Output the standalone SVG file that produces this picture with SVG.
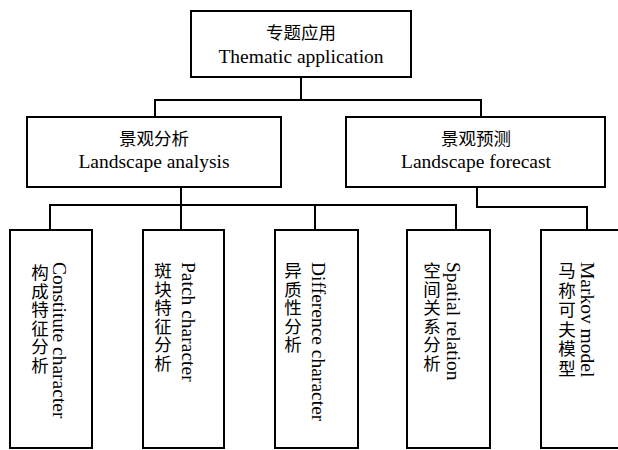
<svg xmlns="http://www.w3.org/2000/svg" width="618" height="450" viewBox="0 0 618 450">
  <style>
    .box { fill: #fff; stroke: #000; stroke-width: 2; }
    .link { fill: none; stroke: #000; stroke-width: 2; }
    .en { font-family: "Liberation Serif", "Times New Roman", serif; font-size: 19.5px; fill: #000; }
    .zh { font-family: "Noto Sans CJK SC", "Noto Sans CJK TC", sans-serif; font-size: 17.5px; fill: #000; }
    .mid { text-anchor: middle; }
    .col { writing-mode: vertical-rl; text-orientation: upright; letter-spacing: 1px; }
  </style>
  <rect width="618" height="450" fill="#fff"/>

  <!-- connectors -->
  <g id="connectors">
    <polyline class="link" points="301,77 301,100"/>
    <polyline class="link" points="155,117 155,100 481,100 481,117"/>
    <polyline class="link" points="181,187 181,230"/>
    <polyline class="link" points="50,230 50,205 456,205 456,230"/>
    <polyline class="link" points="315,205 315,230"/>
    <polyline class="link" points="477,187 477,207 587,207 587,230"/>
  </g>

  <!-- root -->
  <g id="thematic-application">
    <rect class="box" x="191" y="11" width="220" height="66"/>
    <text class="zh mid" x="301" y="39" font-size="18.5">专题应用</text>
    <text class="en mid" x="301" y="63">Thematic application</text>
  </g>

  <!-- second level -->
  <g id="landscape-analysis">
    <rect class="box" x="27" y="117" width="254" height="70"/>
    <text class="zh mid" x="154" y="145">景观分析</text>
    <text class="en mid" x="154" y="168">Landscape analysis</text>
  </g>
  <g id="landscape-forecast">
    <rect class="box" x="346" y="117" width="259" height="70"/>
    <text class="zh mid" x="476" y="145">景观预测</text>
    <text class="en mid" x="476" y="168">Landscape forecast</text>
  </g>

  <!-- leaves: Chinese column stacked upright, English column turned clockwise -->
  <g id="constitute-character">
    <rect class="box" x="10" y="230" width="82" height="218"/>
    <text class="zh col" x="40" y="264">构成特征分析</text>
    <text class="en" transform="translate(53,262) rotate(90)">Constitute character</text>
  </g>
  <g id="patch-character">
    <rect class="box" x="143" y="230" width="81" height="218"/>
    <text class="zh col" x="163" y="262">斑块特征分析</text>
    <text class="en" transform="translate(182,262) rotate(90)">Patch character</text>
  </g>
  <g id="difference-character">
    <rect class="box" x="275" y="230" width="83" height="218"/>
    <text class="zh col" x="293" y="262">异质性分析</text>
    <text class="en" transform="translate(312,262) rotate(90)">Difference character</text>
  </g>
  <g id="spatial-relation">
    <rect class="box" x="407" y="230" width="83" height="218"/>
    <text class="zh col" x="432" y="262">空间关系分析</text>
    <text class="en" transform="translate(447,262) rotate(90)">Spatial relation</text>
  </g>
  <g id="markov-model">
    <rect class="box" x="541" y="230" width="84" height="218"/>
    <text class="zh col" x="567" y="262" style="letter-spacing:2px">马称可夫模型</text>
    <text class="en" transform="translate(581,262) rotate(90)">Markov model</text>
  </g>
</svg>
